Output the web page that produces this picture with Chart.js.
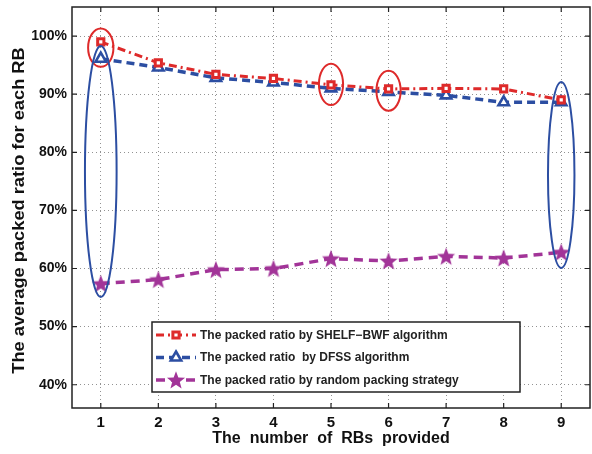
<!DOCTYPE html>
<html>
<head>
<meta charset="utf-8">
<script src="https://cdn.jsdelivr.net/npm/chart.js@4.4.1/dist/chart.umd.min.js"></script>
<style>
  body { margin: 0; background: #fff; }
  #wrap { width: 592px; height: 454px; }
</style>
</head>
<body>
<div id="wrap"><canvas id="myChart" width="592" height="454"></canvas></div>
<script>
// data
var rbLabels = ["1", "2", "3", "4", "5", "6", "7", "8", "9"];
var shelfBwf = [99.0, 95.4, 93.4, 92.7, 91.6, 90.9, 91.0, 90.9, 89.0];
var dfss = [96.1, 94.6, 92.8, 92.0, 91.0, 90.4, 89.8, 88.6, 88.6];
var randomPack = [57.4, 58.1, 59.8, 60.0, 61.7, 61.3, 62.1, 61.8, 62.8];
var yTicks = [40, 50, 60, 70, 80, 90, 100];
var seriesNames = [
  "The packed ratio by SHELF\u2212BWF algorithm",
  "The packed ratio  by DFSS algorithm",
  "The packed ratio by random packing strategy",
];
var yTitle = "The average packed ratio for each RB";
var xTitle = "The  number  of  RBs  provided";

// highlight ellipses (x index, y value, half width in x units, half height in %)
var redMarks = [[1, 98.0, 0.22, 3.3], [5, 91.7, 0.21, 3.55], [6, 90.6, 0.21, 3.45]];
var blueMarks = [[1, 76.7, 0.275, 21.6], [9, 76.1, 0.23, 16.0]];

var RED = "rgb(222,42,42)";
var BLUE = "rgb(44,78,162)";
var MAG = "rgb(162,52,152)";

// filled star marker
function makeStar(color) {
  var c = document.createElement("canvas");
  c.width = 20;
  c.height = 20;
  var g = c.getContext("2d");
  g.fillStyle = color;
  g.beginPath();
  for (var i = 0; i < 10; i++) {
    var r = i % 2 === 0 ? 9.5 : 4.0;
    var a = -Math.PI / 2 + (i * Math.PI) / 5;
    var px = 10 + r * Math.cos(a);
    var py = 10.8 + r * Math.sin(a);
    if (i === 0) g.moveTo(px, py);
    else g.lineTo(px, py);
  }
  g.closePath();
  g.fill();
  return c;
}
var starImg = makeStar(MAG);

var font = "'Liberation Sans', Arial, Helvetica, sans-serif";

var framePlugin = {
  id: "frame",
  afterDatasetsDraw: function (chart) {
    var ctx = chart.ctx;
    var a = chart.chartArea;
    var xs = chart.scales.x;
    var ys = chart.scales.y;
    ctx.save();

    // ellipses
    function ell(list, color) {
      ctx.strokeStyle = color;
      ctx.lineWidth = 2;
      list.forEach(function (m) {
        var cx = xs.getPixelForValue(m[0] - 1);
        var cy = ys.getPixelForValue(m[1]);
        var rx = Math.abs(xs.getPixelForValue(m[0] - 1 + m[2]) - cx);
        var ry = Math.abs(ys.getPixelForValue(m[1] + m[3]) - cy);
        ctx.beginPath();
        ctx.ellipse(cx, cy, rx, ry, 0, 0, Math.PI * 2);
        ctx.stroke();
      });
    }
    ell(redMarks, RED);
    ell(blueMarks, BLUE);

    // frame + inward ticks
    ctx.setLineDash([]);
    ctx.strokeStyle = "#222";
    ctx.lineWidth = 1.5;
    ctx.strokeRect(a.left, a.top, a.right - a.left, a.bottom - a.top);
    ctx.lineWidth = 1.2;
    ctx.beginPath();
    for (var i = 0; i < rbLabels.length; i++) {
      var px = xs.getPixelForValue(i);
      ctx.moveTo(px, a.bottom);
      ctx.lineTo(px, a.bottom - 5);
      ctx.moveTo(px, a.top);
      ctx.lineTo(px, a.top + 5);
    }
    yTicks.forEach(function (v) {
      var py = ys.getPixelForValue(v);
      ctx.moveTo(a.left, py);
      ctx.lineTo(a.left + 5, py);
      ctx.moveTo(a.right, py);
      ctx.lineTo(a.right - 5, py);
    });
    ctx.stroke();

    // y title, stretched along its length like the original
    ctx.save();
    ctx.translate(23.5, (a.top + a.bottom) / 2 + 3);
    ctx.rotate(-Math.PI / 2);
    ctx.scale(1.14, 1);
    ctx.font = "bold 16px " + font;
    ctx.fillStyle = "#111";
    ctx.textAlign = "center";
    ctx.textBaseline = "alphabetic";
    ctx.fillText(yTitle, 0, 0);
    ctx.restore();

    // legend box
    var bx = 152, by = 322, bw = 368, bh = 70;
    ctx.fillStyle = "#fff";
    ctx.fillRect(bx, by, bw, bh);
    ctx.strokeStyle = "#222";
    ctx.lineWidth = 1.5;
    ctx.strokeRect(bx, by, bw, bh);
    ctx.font = "bold 12px " + font;
    ctx.textBaseline = "middle";
    chart.data.datasets.forEach(function (ds, k) {
      var ry = by + 13 + k * 22.5;
      ctx.save();
      ctx.strokeStyle = ds.borderColor;
      ctx.lineWidth = ds.borderWidth;
      ctx.setLineDash(ds.borderDash);
      ctx.beginPath();
      ctx.moveTo(bx + 4, ry);
      ctx.lineTo(bx + 44, ry);
      ctx.stroke();
      ctx.setLineDash([]);
      ctx.fillStyle = ds.pointBackgroundColor;
      ctx.strokeStyle = ds.pointBorderColor;
      ctx.lineWidth = ds.pointBorderWidth;
      Chart.helpers.drawPoint(ctx, {
        pointStyle: ds.pointStyle,
        radius: ds.pointRadius,
        rotation: 0,
        borderWidth: ds.pointBorderWidth,
      }, bx + 24, ry);
      ctx.restore();
      ctx.fillStyle = "#222";
      ctx.fillText(ds.label, bx + 48, ry + 0.5);
    });
    ctx.restore();
  },
};

new Chart("myChart", {
  type: "line",
  data: {
    labels: rbLabels,
    datasets: [
      {
        label: seriesNames[0],
        data: shelfBwf,
        borderColor: RED,
        borderWidth: 3,
        borderDash: [8, 4, 2, 4],
        pointStyle: "rect",
        pointRadius: 4.4,
        pointBackgroundColor: "#fff",
        pointBorderColor: RED,
        pointBorderWidth: 3,
      },
      {
        label: seriesNames[1],
        data: dfss,
        borderColor: BLUE,
        borderWidth: 3.5,
        borderDash: [8, 5],
        pointStyle: "triangle",
        pointRadius: 6,
        pointBackgroundColor: "#fff",
        pointBorderColor: BLUE,
        pointBorderWidth: 2.6,
      },
      {
        label: seriesNames[2],
        data: randomPack,
        borderColor: MAG,
        borderWidth: 3.5,
        borderDash: [9, 6],
        pointStyle: starImg,
        pointRadius: 9,
        pointBackgroundColor: MAG,
        pointBorderColor: MAG,
        pointBorderWidth: 0,
      },
    ],
  },
  options: {
    responsive: false,
    animation: false,
    layout: { autoPadding: false, padding: { top: 7, right: 2, left: 0, bottom: 0 } },
    plugins: { legend: { display: false }, tooltip: { enabled: false } },
    elements: { line: { tension: 0 } },
    scales: {
      x: {
        type: "category",
        offset: true,
        grid: { offset: false, color: "rgba(110,110,110,0.75)", lineWidth: 1, drawTicks: false },
        border: { display: false, dash: [1, 3] },
        ticks: { color: "#111", padding: 6, font: { family: font, size: 15, weight: "bold" } },
        title: {
          display: true,
          text: xTitle,
          color: "#111",
          font: { family: font, size: 16, weight: "bold" },
          padding: { top: 0, bottom: 6 },
        },
        afterFit: function (s) {
          s.height = 46;
          s.paddingLeft = 0;
          s.paddingRight = 0;
        },
      },
      y: {
        min: 36,
        max: 105,
        grid: { color: "rgba(110,110,110,0.75)", lineWidth: 1, drawTicks: false },
        border: { display: false, dash: [1, 3] },
        afterBuildTicks: function (s) {
          s.ticks = yTicks.map(function (v) { return { value: v }; });
        },
        ticks: {
          color: "#111",
          padding: 5,
          font: { family: font, size: 14, weight: "bold" },
          callback: function (v) { return v + "%"; },
        },
        afterFit: function (s) {
          s.width = 72;
          s.paddingTop = 0;
          s.paddingBottom = 0;
        },
      },
    },
  },
  plugins: [framePlugin],
});
</script>
</body>
</html>
